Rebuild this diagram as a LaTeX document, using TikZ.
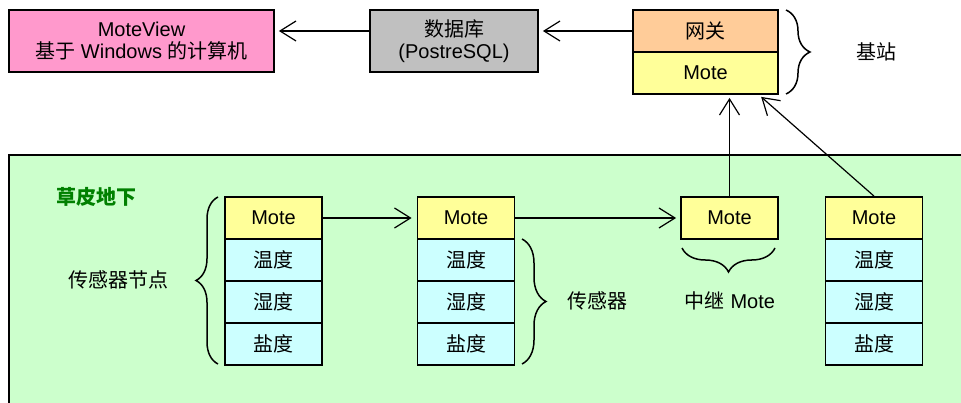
\documentclass[tikz,border=0pt]{standalone}
\usepackage{fontspec}
\setmainfont{Liberation Sans}
\newfontfamily\cjk{Noto Sans CJK SC}
\newcommand{\zh}[1]{{\cjk #1}}
\usetikzlibrary{arrows.meta,decorations.pathreplacing}

\definecolor{pinkfill}{HTML}{FF99CC}
\definecolor{grayfill}{HTML}{C0C0C0}
\definecolor{orangefill}{HTML}{FFCC99}
\definecolor{motefill}{HTML}{FFFF99}
\definecolor{sensorfill}{HTML}{CCFFFF}
\definecolor{groundfill}{HTML}{CCFFCC}
\definecolor{groundtext}{HTML}{008000}

\tikzset{
  box/.style={draw, line width=1.8pt, inner sep=0pt, align=center},
  cell/.style={box, minimum width=97pt, minimum height=42pt},
  motecell/.style={cell, fill=motefill},
  sensorcell/.style={cell, fill=sensorfill},
  arr/.style={-{Straight Barb[length=16pt,width=20pt,line width=1.2pt]}, line width=1.2pt},
  curly/.style={decorate, decoration={brace, amplitude=#1}, line width=1.5pt},
}

\begin{document}
\begin{tikzpicture}[x=1pt, y=-1pt, font=\fontsize{20}{22}\selectfont]
    \useasboundingbox (0,0) rectangle (961,403);

    % Boden (Hintergrund)
    \draw[fill=groundfill, line width=1.2pt] (9,155) rectangle (975,420);
    \node[text=groundtext] (ground) at (96,197) {\cjk\bfseries 草皮地下};

    % obere Reihe
    \node[box, fill=pinkfill, minimum width=265pt, minimum height=62pt] (mv) at (141.5,41)
      {MoteView\\\zh{基于} Windows \zh{的计算机}};
    \node[box, fill=grayfill, minimum width=168pt, minimum height=62pt] (db) at (454,41)
      {\zh{数据库}\\(PostreSQL)};

    % Basisstation
    \node[box, fill=orangefill, minimum width=145pt, minimum height=42pt] (gwa) at (705.5,31) {\zh{网关}};
    \node[box, fill=motefill, minimum width=145pt, minimum height=42pt] (gwb) at (705.5,73) {Mote};
    \draw[curly=24pt] (786,10) -- (786,94);
    \node (base) at (876,52) {\zh{基站}};

    % Sensorknoten
    \foreach \n/\x in {1/273.5, 2/466, 4/874} {
      \node[motecell] (m\n) at (\x,218) {Mote};
      \node[sensorcell] (t\n) at (\x,260) {\zh{温度}};
      \node[sensorcell] (h\n) at (\x,302) {\zh{湿度}};
      \node[sensorcell] (s\n) at (\x,344) {\zh{盐度}};
    }
    \node[motecell] (relay) at (729.5,218) {Mote};

    % Klammern + Beschriftung
    \draw[curly=22pt] (218,364) -- (218,197);
    \node (nodelabel) at (118,280) {\zh{传感器节点}};
    \draw[curly=24pt] (522,239) -- (522,364);
    \node (sensorlabel) at (597,301) {\zh{传感器}};
    \draw[curly=24pt] (775,248) -- (682,248);
    \node (relaylabel) at (730,301) {\zh{中继} Mote};

    % Pfeile
    \draw[arr, shorten >=4pt] (db.west |- gwa.west) -- (mv.east |- gwa.west);
    \draw[arr, shorten >=4pt] (gwa.west) -- (db.east |- gwa.west);
    \draw[arr, shorten >=5pt] (m1.east) -- (m2.west);
    \draw[arr, shorten >=4pt] (m2.east) -- (relay.west);
    \draw[arr, shorten >=3pt] (relay.north) -- (relay.north |- gwb.south);
    \draw[arr, shorten >=3pt] (m4.north) -- ([xshift=-20pt]gwb.south east);
  \end{tikzpicture}
\end{document}
